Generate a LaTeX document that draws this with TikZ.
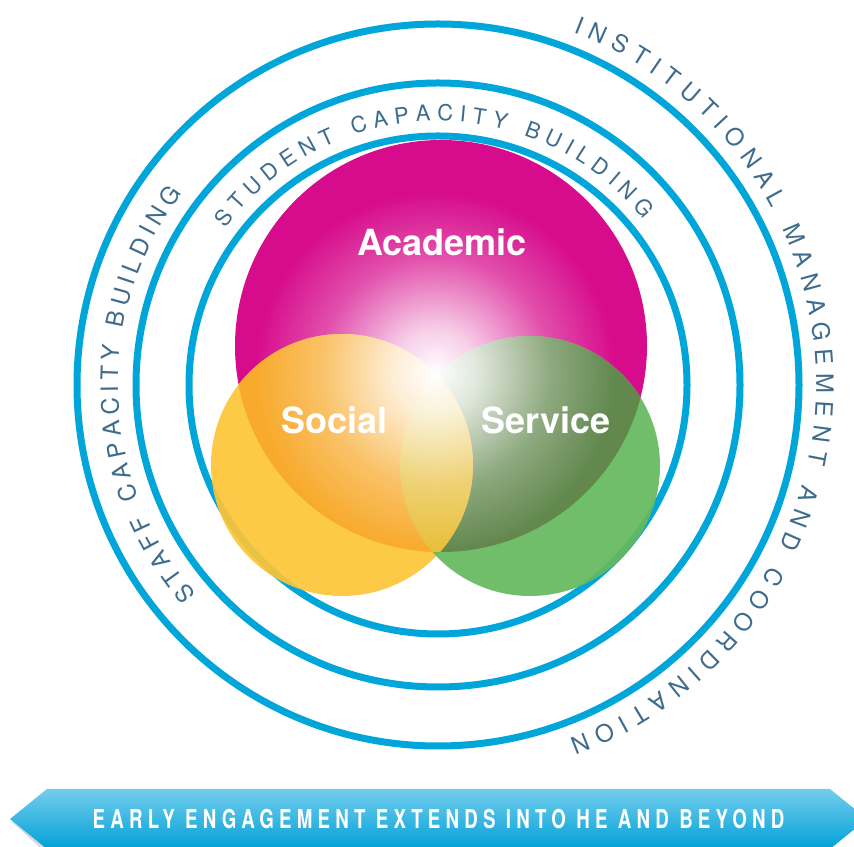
\documentclass[tikz,border=0pt]{standalone}
\usepackage{fontspec}
\usetikzlibrary{decorations.text,fadings}
\newfontfamily\heros{TeX Gyre Heros}
\newfontfamily\bannerfont[FakeStretch=0.72,LetterSpace=20]{TeX Gyre Heros}
\newcommand{\arcfont}{\heros\fontsize{24}{28}\selectfont\color{arcgrey}}
\newcommand{\studentfont}{\heros\fontsize{22}{26}\selectfont\color{arcgrey}}

\definecolor{ringblue}{HTML}{00A6D9}
\definecolor{arcgrey}{HTML}{3F6C8C}
\definecolor{acmagenta}{HTML}{D70C8C}
\definecolor{socyellow}{HTML}{FDC538}
\definecolor{sergreen}{HTML}{65B95D}
\definecolor{socorange}{HTML}{F8AA2C}
\definecolor{serdark}{HTML}{62884E}
\definecolor{midolive}{HTML}{E8BF3A}
\definecolor{bannertop}{HTML}{74CDEC}
\definecolor{bannerbot}{HTML}{00A1D9}

% white glow in the middle of the academic circle
\pgfdeclareradialshading{glowshade}{\pgfpointorigin}{color(0bp)=(pgftransparent!0); color(6bp)=(pgftransparent!20); color(16bp)=(pgftransparent!72); color(25bp)=(pgftransparent!100); color(50bp)=(pgftransparent!100)}
\pgfdeclarefading{glow}{\pgfuseshading{glowshade}}

\begin{document}
\begin{tikzpicture}[x=1pt,y=1pt,
    ring/.style={draw=ringblue, line width=7pt},
    vennlabel/.style={text=white, font=\heros\bfseries\fontsize{36}{40}\selectfont, anchor=base, inner sep=0pt},
    arctext/.style={decorate, decoration={text along path, text align={fit to path}}}]
    \useasboundingbox (0,0) rectangle (854,846);
    \clip (0,0) rectangle (854,846);
    \coordinate (c) at (438,461);

    % Banner
    \fill[black!15] (12,24) -- (45,-6) -- (52,-6) -- (16,27) -- cycle;
    \shade[top color=bannertop, bottom color=bannerbot]
        (10,27) -- (47,57) -- (830,57) -- (867,27) -- (830,-3) -- (47,-3) -- cycle;
    \node[font=\bannerfont\bfseries\fontsize{26}{30}\selectfont, text=white, anchor=base] (banner) at (438.5,17) {EARLY ENGAGEMENT EXTENDS INTO HE AND BEYOND};

    % Rings
    \draw[ring] (c) circle[radius=361];
    \draw[ring] (c) circle[radius=302];
    \draw[ring] (c) circle[radius=249];

    % Venn circles
    \fill[acmagenta] (441,500) circle[radius=206];
    \fill[socyellow, fill opacity=0.92] (342,381) circle[radius=131];
    \fill[sergreen, fill opacity=0.92] (530,380) circle[radius=130];
    % overlaps with academic
    \begin{scope}
        \clip (441,500) circle[radius=206];
        \fill[serdark] (530,380) circle[radius=130];
        \fill[socorange] (342,381) circle[radius=131];
        \begin{scope}
            \clip (342,381) circle[radius=131];
            \fill[midolive] (530,380) circle[radius=130];
        \end{scope}
        \fill[white, path fading=glow] (435,474) circle[radius=180];
    \end{scope}

    % Labels
    \node[vennlabel] (academic) at (442,590) {Academic};
    \node[vennlabel] (social) at (334.5,412) {Social};
    \node[vennlabel] (service) at (546,412) {Service};

    % Texts round the rings
    \path[arctext, shift={(c)}, decoration={text={|\arcfont|INSTITUTIONAL MANAGEMENT AND COORDINATION}}]
        (69:378) arc[start angle=69, end angle=-69.6, radius=378];
    \path[arctext, shift={(c)}, decoration={text={|\arcfont|STAFF CAPACITY BUILDING}}]
        (221:320) arc[start angle=221, end angle=143.2, radius=320];
    \path[arctext, shift={(c)}, decoration={text={|\studentfont|STUDENT CAPACITY BUILDING}}]
        (143.6:264) arc[start angle=143.6, end angle=38.9, radius=264];
\end{tikzpicture}
\end{document}
